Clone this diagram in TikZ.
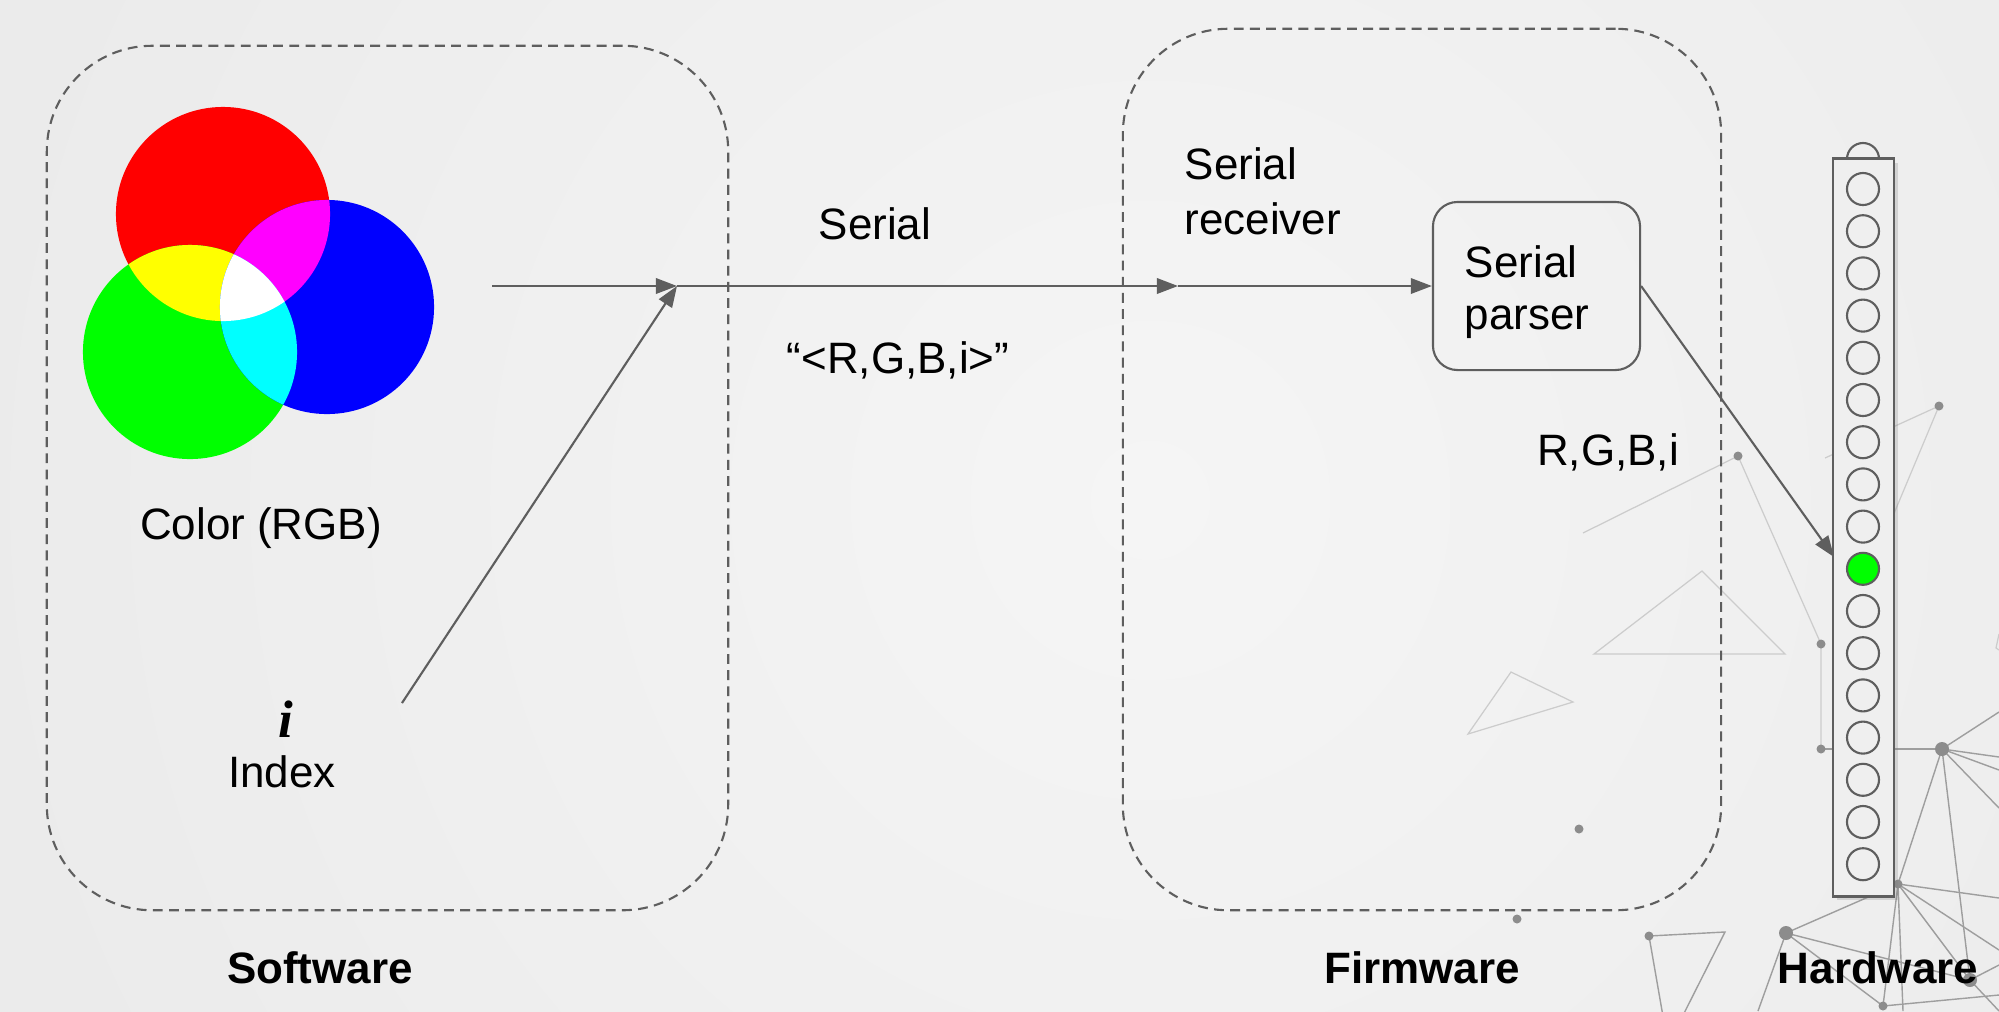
\documentclass[tikz,border=0pt]{standalone}
\usepackage{fontspec}
\setmainfont{Liberation Sans}
\newfontfamily\idxfont{Liberation Serif}
\usetikzlibrary{positioning}
\usetikzlibrary{arrows.meta}
\usetikzlibrary{shadows}
\definecolor{bgdark}{HTML}{E1E1E1}
\definecolor{bglight}{HTML}{F5F5F5}
\definecolor{linegray}{HTML}{5E5E5E}
\definecolor{stripfill}{HTML}{EFEFEF}
\definecolor{ledgreen}{HTML}{00FF00}
\definecolor{pred}{rgb}{1,0,0}
\definecolor{pgreen}{rgb}{0,1,0}
\definecolor{pblue}{rgb}{0,0,1}
\definecolor{pyellow}{rgb}{1,1,0}
\definecolor{pmagenta}{rgb}{1,0,1}
\definecolor{pcyan}{rgb}{0,1,1}
\tikzset{
    groupbox/.style = {rectangle, draw=linegray, line width=0.6pt, dash pattern=on 2.8pt off 1.8pt, rounded corners=30pt, inner sep=0pt},
    grouplabel/.style = {font=\fontsize{12.5}{15}\selectfont\bfseries},
    txt/.style = {font=\fontsize{12.5}{15.6}\selectfont, align=left, inner sep=0pt},
    parserbox/.style = {rectangle, draw=linegray, line width=0.6pt, rounded corners=7pt, align=left, font=\fontsize{12.5}{14.6}\selectfont, text width=1.43cm, inner xsep=0.32cm, minimum width=2.07cm, minimum height=1.68cm},
    stripbox/.style = {rectangle, draw=linegray, line width=0.8pt, fill=stripfill, minimum width=0.61cm, minimum height=7.37cm, inner sep=0pt, drop shadow={shadow xshift=1.2pt, shadow yshift=-1.2pt, opacity=0.25}},
    led/.style = {circle, draw=linegray, line width=0.6pt, minimum size=0.32cm, inner sep=0pt},
    ledon/.style = {led, fill=ledgreen},
    flow/.style = {-{Triangle[length=6pt,width=4.4pt]}, line width=0.6pt, draw=linegray, fill=linegray},
    bgline/.style = {draw=black!20, line width=0.35pt},
    bglined/.style = {draw=black!38, line width=0.4pt},
    bgdot/.style = {fill=black!45},
}

\begin{document}
\begin{tikzpicture}[x=0.01cm, y=-0.01cm]
\useasboundingbox (0,0) rectangle (1999,1011);
%
% background
\begin{scope}
\clip (0,0) rectangle (1999,1011);
\fill[bgdark] (0,0) rectangle (1999,1011);
\shade[inner color=bglight, outer color=bgdark] (1150,500) circle (24cm);
\end{scope}
%
% network decoration
\draw[bgline] (1583,533) -- (1738,456) -- (1821,644) -- (1821,749);
\draw[bgline] (1702,571) -- (1594,654) -- (1785,654) -- cycle;
\draw[bgline] (1511,672) -- (1573,702) -- (1468,734) -- cycle;
\draw[bgline] (1825,458) -- (1939,406) -- (1885,535);
\draw[bgline] (1999,634) -- (1996,648) -- (1999,650);
\draw[bglined] (1821,749) -- (1942,749);
\draw[bglined] (1999,712) -- (1942,749) -- (1999,757);
\draw[bglined] (1999,770) -- (1942,749) -- (1999,808);
\draw[bglined] (1970,980) -- (1942,749) -- (1898,884) -- (1786,933) -- (1970,980) -- (1898,884);
\draw[bglined] (1999,898) -- (1898,884) -- (1999,950);
\draw[bglined] (1883,1006) -- (1898,884) -- (1903,1011);
\draw[bglined] (1758,1011) -- (1786,933) -- (1883,1006) -- (1999,995);
\draw[bglined] (1999,965) -- (1970,980) -- (1999,1011);
\draw[bglined] (1649,936) -- (1725,932) -- (1668,1045) -- cycle;
\foreach \p in {(1738,456),(1821,644),(1821,749),(1939,406),(1579,829),(1517,919),(1649,936),(1883,1006),(1898,884)}
  \fill[bgdot] \p circle (0.045cm);
\foreach \p in {(1942,749),(1786,933),(1970,980)}
  \fill[bgdot] \p circle (0.07cm);
%
% RGB circles
\coordinate (rc) at (223,214);
\coordinate (gc) at (190,352);
\coordinate (bc) at (327,307);
\fill[pred] (rc) circle (1.07cm);
\fill[pgreen] (gc) circle (1.07cm);
\fill[pblue] (bc) circle (1.07cm);
\begin{scope}
\clip (rc) circle (1.07cm);
\fill[pyellow] (gc) circle (1.07cm);
\fill[pmagenta] (bc) circle (1.07cm);
\end{scope}
\begin{scope}
\clip (gc) circle (1.07cm);
\fill[pcyan] (bc) circle (1.07cm);
\clip (rc) circle (1.07cm);
\fill[white] (bc) circle (1.07cm);
\end{scope}
%
% groups
\node[groupbox, minimum width=6.81cm, minimum height=8.64cm] at (387.5,478) (sw) {};
\node[groupbox, minimum width=5.98cm, minimum height=8.81cm] at (1422,469.5) (fw) {};
\node[grouplabel] at (320,968) (swl) {Software};
\node[grouplabel] at (1422,968) (fwl) {Firmware};
\node[grouplabel] at (1878,968) (hwl) {Hardware};
%
\node[txt] at (261,528) (rgb) {Color (RGB)};
\node[font=\fontsize{15}{17}\selectfont\idxfont\bfseries\itshape, inner sep=0pt] at (286,719) (i) {i};
\node[txt] at (282,772) (index) {Index};
\node[txt] at (875,224) (ser) {Serial};
\node[txt] at (898,360) (msg) {“<R,G,B,i>”};
\node[txt, anchor=west] at (1184,191) (rx) {Serial\\receiver};
\node[parserbox] at (1536.5,286) (parser) {\rule{0pt}{12.6pt}Serial\\parser};
\node[txt] at (1608,452) (vals) {R,G,B,i};
%
% led strip
\filldraw[fill=stripfill, draw=linegray, line width=0.6pt] (1863,159) circle (0.16cm);
\node[stripbox] at (1863.5,527.5) (strip) {};
\foreach \k in {0,...,8,10,11,...,16}
  \node[led] at (1863,189+42.2*\k) (led\k) {};
\node[ledon] at (1863,189+42.2*9) (led9) {};
%
\coordinate (colorout) at (492,286);
\coordinate (merge) at (677,286);
\coordinate (idxout) at (402,703);
\coordinate (rxin) at (1178,286);
\coordinate (ledin) at (1834,557);
%
\draw[flow] (colorout) -- (merge);
\draw[flow] (idxout) -- (merge);
\draw[flow] (merge) -- (rxin);
\draw[flow] (rxin) -- (parser);
\draw[flow] (parser.east) -- (ledin);

\end{tikzpicture}
\end{document}
